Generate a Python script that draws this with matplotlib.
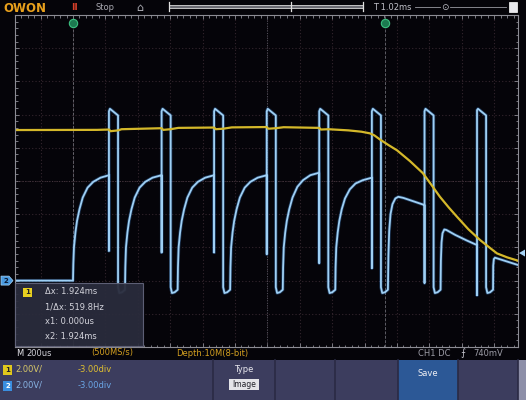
import matplotlib
matplotlib.use("Agg")
import matplotlib.pyplot as plt
from matplotlib.patches import Rectangle, Polygon

# ---------------- data (time in us, cursor x1 = 0; volts, 2 V/div) ----------------
ch2_t = [-358, 0,
         0, 2, 6, 15, 25, 40, 60, 90, 125, 170, 222,
         222, 222, 228, 278, 278, 286, 303,
         321, 323, 327, 336, 346, 361, 381, 411, 446, 491, 547,
         547, 547, 553, 603, 603, 611, 628,
         646, 648, 652, 661, 671, 686, 706, 736, 771, 816, 871,
         871, 871, 877, 927, 927, 935, 952,
         970, 972, 976, 985, 995, 1010, 1030, 1060, 1095, 1140, 1196,
         1196, 1196, 1202, 1252, 1252, 1260, 1277,
         1295, 1297, 1301, 1310, 1320, 1335, 1355, 1385, 1420, 1465, 1520,
         1520, 1520, 1526, 1576, 1576, 1584, 1601,
         1619, 1621, 1625, 1634, 1644, 1659, 1679, 1709, 1744, 1789, 1845,
         1845, 1845, 1851, 1901, 1901, 1909, 1926,
         1944, 1947, 1952, 1960, 1972, 1990, 2008, 2040, 2100, 2170,
         2170, 2170, 2176, 2226, 2226, 2234, 2251,
         2269, 2271, 2275, 2281, 2292, 2305, 2360, 2430, 2494,
         2494, 2494, 2500, 2550, 2550, 2558, 2575,
         2593, 2594, 2598, 2605, 2680, 2747]
ch2_v = [0.0, 0.0,
         0.0, 1.0, 2.0, 2.9, 3.6, 4.3, 5.0, 5.6, 5.95, 6.2, 6.35,
         1.8, 10.2, 10.35, 9.95, -0.4, -0.75, -0.7,
         -0.55, 0.8, 2.0, 2.9, 3.6, 4.3, 5.0, 5.6, 5.95, 6.2, 6.35,
         1.7, 10.2, 10.35, 9.95, -0.4, -0.75, -0.7,
         -0.55, 0.8, 2.0, 2.9, 3.6, 4.3, 5.0, 5.6, 5.95, 6.2, 6.35,
         1.7, 10.2, 10.35, 9.95, -0.4, -0.75, -0.7,
         -0.55, 0.8, 2.0, 2.9, 3.6, 4.3, 5.0, 5.6, 5.95, 6.2, 6.35,
         1.6, 10.2, 10.35, 9.95, -0.4, -0.75, -0.7,
         -0.55, 0.8, 2.0, 2.9, 3.6, 4.3, 5.0, 5.65, 6.05, 6.35, 6.5,
         1.06, 10.2, 10.35, 9.95, -0.4, -0.75, -0.7,
         -0.55, 0.8, 2.0, 2.9, 3.6, 4.3, 4.95, 5.5, 5.85, 6.05, 6.2,
         0.76, 10.2, 10.35, 9.95, -0.4, -0.75, -0.7,
         -0.55, 1.5, 3.0, 4.0, 4.6, 4.95, 5.05, 4.98, 4.78, 4.55,
         -0.14, 10.2, 10.35, 9.95, -0.4, -0.75, -0.7,
         -0.55, 1.2, 2.3, 2.85, 3.08, 3.05, 2.75, 2.42, 2.14,
         -0.87, 10.27, 10.35, 9.95, -0.4, -0.75, -0.7,
         -0.55, 0.9, 1.3, 1.38, 1.15, 0.94]

ch1_t = [-358, 150, 222, 232, 278, 300, 547, 557, 603, 650, 871, 881, 927, 980,
         1196, 1206, 1252, 1300, 1520, 1530, 1576, 1700, 1780, 1833, 1860, 1895,
         1950, 2000, 2080, 2160, 2210, 2265, 2320, 2370, 2440, 2512, 2570, 2617,
         2680, 2747]
ch1_v = [9.07, 9.08, 9.1, 9.0, 9.05, 9.12, 9.18, 9.08, 9.12, 9.2, 9.22, 9.12, 9.15, 9.23,
         9.25, 9.15, 9.18, 9.24, 9.2, 9.1, 9.12, 9.05, 8.97, 8.87, 8.75, 8.5,
         8.15, 7.85, 7.2, 6.47, 5.8, 5.05, 4.4, 3.85, 3.1, 2.45, 2.0, 1.64,
         1.4, 1.2]

cursor_t = [0, 1924]
t_range = (-358, 2747)
v_range = (-4.0, 16.0)
cursor_lines = ["\u0394x: 1.924ms", "1/\u0394x: 519.8Hz", "x1: 0.000us", "x2: 1.924ms"]

# ---------------- figure ----------------
W, H = 526, 400
BG = "#050409"
fig = plt.figure(figsize=(W / 100, H / 100), dpi=100, facecolor=BG)

ui = fig.add_axes([0, 0, 1, 1])
ui.set_xlim(0, W); ui.set_ylim(H, 0); ui.axis("off")

gx0, gx1, gy0, gy1 = 15, 518, 15, 347
sc = fig.add_axes([gx0 / W, 1 - gy1 / H, (gx1 - gx0) / W, (gy1 - gy0) / H])
sc.set_facecolor("none")
sc.set_xlim(*t_range); sc.set_ylim(*v_range)
sc.set_xticks(range(-200, 2747, 200))
sc.set_yticks(range(-2, 16, 2))
sc.set_xticks(range(-320, 2747, 40), minor=True)
sc.set_yticks([v / 10 for v in range(-36, 160, 4)], minor=True)
sc.grid(True, which="major", color="#33252d", lw=0.8, ls=(0, (1, 2)))
sc.tick_params(which="both", direction="in", top=True, right=True, bottom=True, left=True,
               labelbottom=False, labelleft=False, color="#8c8c94", width=0.6)
sc.tick_params(which="major", length=3)
sc.tick_params(which="minor", length=1.8)
for s in sc.spines.values():
    s.set_color("#8c8c94"); s.set_linewidth(0.8)
sc.axvline(1200, color="#55555f", lw=0.7, ls=(0, (1, 1.5)))
sc.axhline(6, color="#44363e", lw=0.7, ls=(0, (1, 1.5)))
for ct in cursor_t:
    sc.axvline(ct, color="#7a7a82", lw=0.7, ls=(0, (3, 1.5)), alpha=0.75)

# traces
sc.plot(ch2_t, ch2_v, color="#3b7cc4", lw=2.4, alpha=0.4, solid_joinstyle="round")
sc.plot(ch2_t, ch2_v, color="#9fd0f4", lw=1.3, solid_joinstyle="round")
sc.plot(ch1_t, ch1_v, color="#d4b82a", lw=1.6)
sc.plot(cursor_t, [15.5, 15.5], ls="none", marker="o", ms=6, mfc="#1c7a50",
        mec="#3cc080", mew=0.8, clip_on=False)

def v2py(v):
    return gy0 + (v_range[1] - v) / (v_range[1] - v_range[0]) * (gy1 - gy0)

# ---------------- top bar ----------------
ui.text(3, 8, "OWON", color="#e8a01c", fontsize=8.5, fontweight="bold", va="center")
ui.text(71, 8, "II", color="#d8402a", fontsize=6.5, fontweight="bold", va="center")
ui.text(96, 8, "Stop", color="#a8a8b0", fontsize=6, va="center")
ui.text(136, 8, "\u2302", color="#b0b0b8", fontsize=8, va="center")
ui.add_patch(Rectangle((169, 4.5), 194, 3.5, fc="#6a6a72", ec="#d8d8d8", lw=0.6))
ui.plot([169, 169], [2, 11], color="#e0e0e0", lw=0.9)
ui.plot([291, 291], [2, 11], color="#e0e0e0", lw=0.9)
ui.plot([363, 363], [2, 11], color="#e0e0e0", lw=0.9)
ui.text(373, 7.5, "T 1.02ms", color="#c0c0c8", fontsize=6, va="center")
ui.plot([415, 440], [7, 7], color="#9a9aa2", lw=0.6)
ui.text(445, 7, "\u2299", color="#c0c0c8", fontsize=6.5, va="center", ha="center")
ui.plot([450, 506], [7, 7], color="#9a9aa2", lw=0.6)
ui.add_patch(Rectangle((509, 2), 8, 10, fc="#e8e8ec", ec="#ffffff", lw=0.5))

# channel / trigger markers
py0 = v2py(0)
ui.add_patch(Polygon([(1, py0 - 4.5), (9, py0 - 4.5), (13, py0), (9, py0 + 4.5), (1, py0 + 4.5)],
                     closed=True, fc="#4a9ae0", ec="#a8d4f6", lw=0.5))
ui.text(5.5, py0, "2", color="#0a1830", fontsize=5, ha="center", va="center", fontweight="bold")
pyt = v2py(1.66)
ui.add_patch(Polygon([(519, pyt), (525, pyt - 3.5), (525, pyt + 3.5)], closed=True,
                     fc="#a8d4f6", ec="none"))

# ---------------- status line ----------------
ui.text(16, 353, "M", color="#e8e8ee", fontsize=6, va="center")
ui.text(26, 353, "200us", color="#d0d0d8", fontsize=6, va="center")
ui.text(91, 353, "(500MS/s)", color="#d4a020", fontsize=6, va="center")
ui.text(176, 353, "Depth:10M(8-bit)", color="#d4a020", fontsize=6, va="center")
ui.text(418, 353, "CH1 DC", color="#9c9ca6", fontsize=6, va="center")
ui.text(460, 353, "\u2a0d", color="#c0c0c8", fontsize=7, va="center")
ui.text(473, 353, "740mV", color="#9c9ca6", fontsize=6, va="center")

# ---------------- bottom menu ----------------
ui.add_patch(Rectangle((0, 360), W, 40, fc="#3c3d5e", ec="none"))
ui.add_patch(Rectangle((398, 360), 60, 40, fc="#2c5896", ec="none"))
ui.add_patch(Rectangle((518, 360), 8, 40, fc="#8d8fa8", ec="none"))
for xs in [213, 275, 335, 398, 458, 518]:
    ui.plot([xs, xs], [360, 400], color="#2a2a44", lw=1.2)
ui.add_patch(Rectangle((3, 364.5), 9, 10, fc="#e0c81c", ec="none"))
ui.text(7.5, 369.5, "1", color="#222", fontsize=5, ha="center", va="center", fontweight="bold")
ui.text(15, 369.5, "2.00V/", color="#d8c868", fontsize=6, va="center")
ui.text(78, 369.5, "-3.00div", color="#e0c030", fontsize=6, va="center")
ui.add_patch(Rectangle((3, 380.5), 9, 10, fc="#3a8ee0", ec="none"))
ui.text(7.5, 385.5, "2", color="#ffffff", fontsize=5, ha="center", va="center", fontweight="bold")
ui.text(15, 385.5, "2.00V/", color="#88b4e4", fontsize=6, va="center")
ui.text(78, 385.5, "-3.00div", color="#6aa6e6", fontsize=6, va="center")
ui.text(244, 370, "Type", color="#e8e8ee", fontsize=6, ha="center", va="center")
ui.add_patch(Rectangle((229, 379), 30, 11, fc="#e4e4e8", ec="none"))
ui.text(244, 384.5, "Image", color="#202028", fontsize=5.5, ha="center", va="center")
ui.text(428, 374, "Save", color="#f0f0f4", fontsize=6, ha="center", va="center")

# ---------------- cursor box (overlay) ----------------
ov = fig.add_axes([0, 0, 1, 1])
ov.set_xlim(0, W); ov.set_ylim(H, 0); ov.axis("off")
ov.add_patch(Rectangle((15, 283), 128, 63, fc="#2a2c3c", ec="#62647a", lw=0.8, alpha=0.95))
ov.add_patch(Rectangle((23, 287.5), 9, 9, fc="#e8d020", ec="none"))
ov.text(27.5, 292, "1", color="#222", fontsize=5, ha="center", va="center", fontweight="bold")
for i, s in enumerate(cursor_lines):
    ov.text(45, 292 + i * 14.7, s, color="#d4d4dc", fontsize=6, va="center")

fig.savefig("out.png", dpi=100, facecolor=BG)
